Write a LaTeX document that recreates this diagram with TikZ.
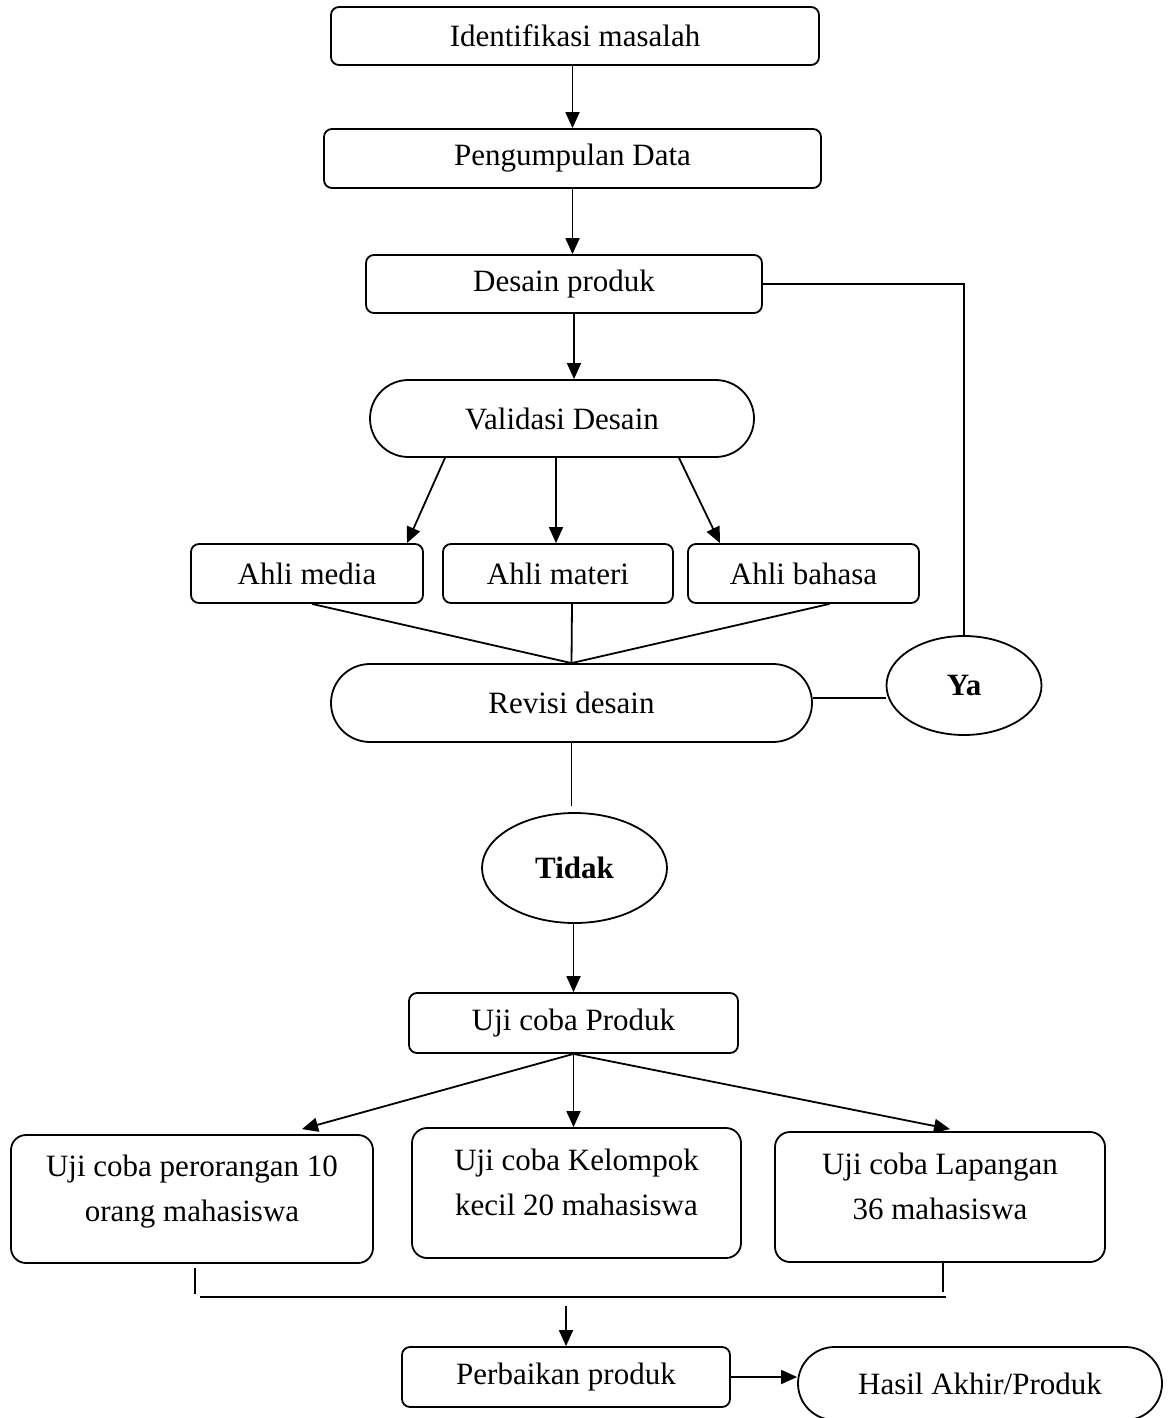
\documentclass[tikz,border=0pt]{standalone}
\usepackage{fontspec}
\setmainfont{Liberation Serif}
\usepackage{tikz}
\usetikzlibrary{arrows.meta,positioning,shapes.geometric,shapes.misc,calc}
\tikzset{
  stepbox/.style={draw=black,rounded corners=4pt,align=center,line width=0.9pt,inner sep=2pt},
  trialbox/.style={stepbox,rounded corners=7.5pt,text depth=11pt},
  pillbox/.style={draw=black,rounded rectangle,align=center,line width=0.9pt,inner sep=2pt},
  choice/.style={draw=black,ellipse,line width=0.9pt,inner sep=0pt,font=\bfseries},
  flowarrow/.style={-{Triangle[length=8pt,width=7pt]},line width=0.9pt},
  flowline/.style={line width=0.9pt}
}

\begin{document}
\fontsize{15.5}{22.5}\selectfont
\begin{tikzpicture}[x=0.5pt,y=-0.5pt]
\useasboundingbox (0,0) rectangle (1168,1418);
% tahap awal
\node[stepbox,minimum width=244pt,minimum height=29pt] (idm) at (575,36) {Identifikasi masalah};
\node[stepbox,minimum width=248.5pt,minimum height=29.5pt] (data) at (572.5,158.5) {Pengumpulan Data};
\node[stepbox,minimum width=198pt,minimum height=29pt] (desain) at (564,284) {Desain produk};
\node[pillbox,minimum width=196pt,minimum height=38.5pt] (valid) at (562,418.5) {Validasi Desain};
\draw[flowarrow] (data.north |- idm.south) -- (data.north);
\draw[flowarrow] (data.south) -- (data.south |- desain.north);
\draw[flowarrow] ([xshift=5pt]desain.south) -- ([xshift=5pt]desain.south |- valid.north);
% validasi ahli
\node[stepbox,minimum width=116pt,minimum height=29.5pt] (media) at (307,573.5) {Ahli media};
\node[stepbox,minimum width=115pt,minimum height=29.5pt] (materi) at (558,573.5) {Ahli materi};
\node[stepbox,minimum width=115.5pt,minimum height=29.5pt] (bahasa) at (803.5,573.5) {Ahli bahasa};
\draw[flowarrow] ([xshift=-58.5pt]valid.south) -- ([xshift=50pt]media.north);
\draw[flowarrow] ([xshift=-3pt]valid.south) -- ([xshift=-1pt]materi.north);
\draw[flowarrow] ([xshift=58.5pt]valid.south) -- ([xshift=-41.75pt]bahasa.north);
\node[pillbox,minimum width=244.5pt,minimum height=39pt] (revisi) at (571.5,703) {Revisi desain};
\draw[flowline] ([xshift=2.5pt]media.south) -- (revisi.north);
\draw[flowline] ([xshift=7pt]materi.south) -- (revisi.north);
\draw[flowline] ([xshift=13pt]bahasa.south) -- (revisi.north);
% keputusan
\node[choice,minimum width=77.5pt,minimum height=49.5pt] (ya) at (964,685.5) {Ya};
\node[choice,minimum width=92.5pt,minimum height=55pt] (tidak) at (574.5,868) {Tidak};
\draw[flowline] (desain.east) -- (desain.east -| ya.north) -- (ya.north);
\draw[flowline] ([yshift=2.5pt]revisi.east) -- ([yshift=2.5pt]revisi.east -| ya.west);
\draw[flowline] (revisi.south) -- ([yshift=3pt]tidak.north -| revisi.south);
% uji coba
\node[stepbox,minimum width=164.5pt,minimum height=30pt] (uji) at (573.5,1023) {Uji coba Produk};
\draw[flowarrow] (uji.north |- tidak.south) -- (uji.north);
\node[trialbox,minimum width=181pt,minimum height=64pt] (perorangan) at (192,1199) {Uji coba perorangan 10\\orang mahasiswa};
\node[trialbox,minimum width=164.5pt,minimum height=65pt] (kelompok) at (576.5,1193) {Uji coba Kelompok\\kecil 20 mahasiswa};
\node[trialbox,minimum width=165pt,minimum height=65pt] (lapangan) at (940,1197) {Uji coba Lapangan\\36 mahasiswa};
\draw[flowarrow] (uji.south) -- ([xshift=55pt,yshift=2.5pt]perorangan.north);
\draw[flowarrow] (uji.south) -- (uji.south |- kelompok.north);
\draw[flowarrow] (uji.south) -- ([xshift=5pt,yshift=1pt]lapangan.north);
% perbaikan
\coordinate (barL) at (200,1297);
\coordinate (barR) at (946,1297);
\coordinate (barM) at (566,1306);
\node[stepbox,minimum width=164pt,minimum height=30pt] (perbaikan) at (566,1377) {Perbaikan produk};
\node[pillbox,minimum width=186pt,minimum height=36.5pt] (hasil) at (980,1383.5) {Hasil Akhir/Produk};
\draw[flowline] ([xshift=1.5pt,yshift=-2pt]perorangan.south) -- ([xshift=1.5pt,yshift=1.5pt]perorangan.south |- barL);
\draw[flowline] (barL) -- (barR);
\draw[flowline] ([xshift=1.5pt]lapangan.south) -- ([xshift=1.5pt,yshift=2.5pt]lapangan.south |- barR);
\draw[flowarrow] (barM) -- (perbaikan.north);
\draw[flowarrow] (perbaikan.east) -- (perbaikan.east -| hasil.west);
\end{tikzpicture}
\end{document}
